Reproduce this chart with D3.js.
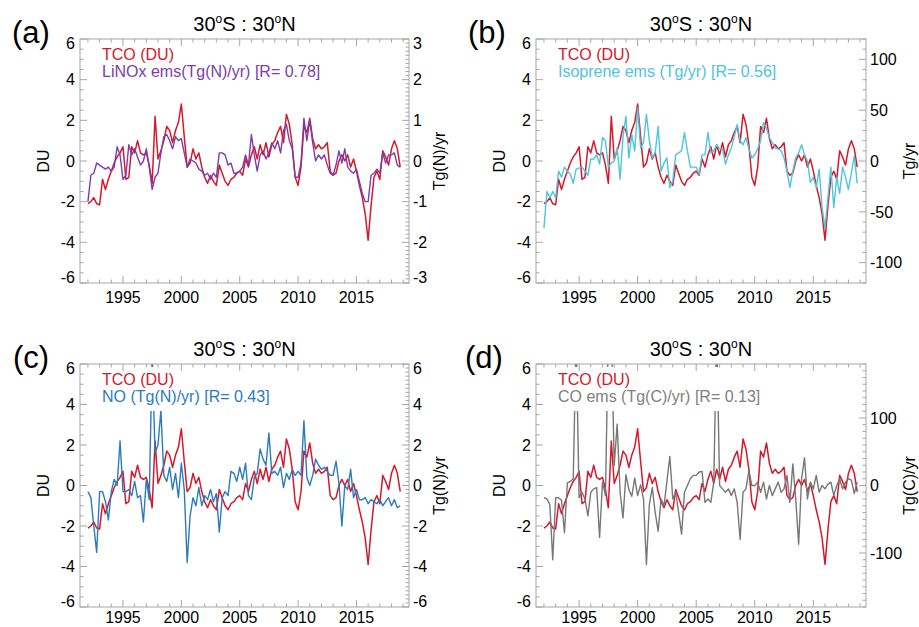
<!DOCTYPE html>
<html><head><meta charset="utf-8">
<script src="https://cdn.jsdelivr.net/npm/d3@7"></script>
<style>
body{margin:0;background:#fff;}
text{font-family:"Liberation Sans",Arial,Helvetica,sans-serif;fill:#000;}
</style>
</head><body>
<svg id="chart" width="919" height="627"></svg>
<script>
// quarterly samples starting 1992.0
const startYear = 1992, stepYear = 0.25;

// Tropospheric column ozone anomaly (DU)
const tco = [
 -2.1,-2.0,-1.8,-2.1,  -2.15,-0.9,-1.4,-0.9,  -0.5,-0.1,0.2,0.4,  0.7,-0.9,-0.8,0.7,
 0.4,1.0,0.4,0.3,  0.4,-0.2,-1.1,2.2,  0.1,0.5,1.0,1.7,  1.5,0.9,1.5,1.9,
 2.8,1.2,-0.3,-0.1,  0.6,0.1,0.4,-0.3,  -0.8,-1.1,-0.7,-1.0,  -1.2,-0.2,-0.6,-1.0,
 -1.2,-0.9,-0.8,-0.6,  -0.5,-0.7,0.1,-0.3,  0.3,0.7,0.1,0.8,  0.3,0.9,0.2,0.8,
 1.0,1.4,1.7,0.9,  2.3,1.8,0.8,-0.8,  -1.2,-0.3,1.7,1.4,  2.1,1.1,0.6,0.8,
 0.6,0.7,0.9,-0.5,  -0.7,-0.6,0.0,0.3,  0.0,0.3,-0.3,0.1,  -0.5,-1.2,-1.8,-2.6,
 -3.9,-2.2,-0.8,-0.5,  -0.9,0.5,0.2,-0.2,  0.6,1.0,0.6,-0.3
];
// LiNOx emissions anomaly (Tg(N)/yr)
const linox = [
 -1.0,-0.35,-0.3,-0.05,  -0.1,-0.15,-0.2,-0.15,  -0.25,-0.15,0.35,0.15,  -0.45,-0.35,0.4,0.15,
 0.3,0.1,-0.1,0.0,  0.3,-0.15,-0.7,-0.4,  -0.3,0.2,0.6,0.65,  0.5,0.3,0.6,0.5,
 0.55,0.2,-0.15,0.05,  0.0,-0.05,-0.2,-0.25,  -0.35,-0.3,-0.45,-0.3,  -0.4,0.2,0.2,0.15,
 -0.1,-0.05,-0.3,-0.3,  -0.25,-0.15,0.15,-0.1,  0.65,0.15,-0.25,0.15,  0.25,0.05,0.2,0.45,
 0.3,0.5,0.2,0.75,  0.9,0.5,0.3,-0.4,  -0.4,-0.05,1.05,0.5,  1.0,0.45,0.0,0.15,
 0.05,0.15,-0.1,-0.3,  -0.35,-0.1,0.25,-0.05,  0.3,-0.15,-0.25,-0.3,  -0.2,-0.5,-0.8,-1.0,
 -1.0,-0.35,-0.3,-0.2,  -0.3,0.2,-0.05,0.15,  0.15,0.2,-0.1,-0.15
];
// Isoprene emissions anomaly (Tg/yr)
const isoprene = [
 -66,-30,-36,-30,  -36,-10,-16,-6,  -10,-13,-22,-8,  -7,-6,-10,-14,
 2,2,6,-3,  23,20,-6,-2,  0,13,-18,24,  44,3,26,10,
 52,13,18,46,  20,3,8,34,  -10,-2,3,-26,  -20,6,8,10,
 28,10,-6,-6,  -6,-13,6,6,  28,8,10,16,  12,12,-3,6,
 13,24,36,20,  16,23,12,3,  6,12,20,38,  32,23,18,13,
 12,10,3,-10,  -26,-10,3,8,  16,6,0,-21,  -16,-26,-8,-46,
 -66,-36,-6,-46,  -16,-32,-6,-16,  -28,-12,5,-22
];
// NO emissions anomaly (Tg(N)/yr)
const noEms = [
 -0.3,-0.6,-2.0,-3.3,  -0.3,-0.3,-0.8,-1.7,  -0.3,0.3,0.0,2.2,  -0.3,-0.3,-0.2,-0.5,
 0.2,-0.6,-0.5,-1.8,  0.3,-0.7,6.5,1.6,  2.0,3.7,0.5,0.2,  0.9,-0.2,0.6,-0.6,
 1.1,-0.2,-3.8,-1.5,  -0.6,-1.0,-0.1,-1.0,  -0.5,-0.7,-0.2,-0.8,  -0.4,-2.3,-0.6,-0.3,
 -0.5,0.7,0.6,0.2,  0.9,0.3,1.1,-0.5,  -0.7,0.4,0.6,1.8,  1.3,1.0,2.6,0.6,
 0.7,0.5,0.9,-0.1,  0.6,0.3,0.8,0.5,  0.7,0.5,3.2,0.4,  0.0,0.5,1.3,1.0,
 0.8,0.9,0.7,0.5,  0.5,1.2,0.1,-2.0,  0.0,-0.2,0.8,-0.6,  -0.2,-0.7,-0.7,-0.6,
 -0.9,-0.7,-0.8,-0.9,  -0.7,-1.0,-0.8,-0.6,  -1.0,-0.7,-1.1,-1.0
];
// CO emissions anomaly (Tg(C)/yr)
const coEms = [
 -18,-20,-28,-110,  -18,-18,-22,-70,  4,6,10,220,  -18,-10,-20,-45,
 -10,-5,-3,-77,  5,-15,230,230,  30,91,-10,-48,  16,-6,-16,11,
 -15,1,-20,-117,  -28,-3,-40,-68,  -20,-30,6,43,  -20,-10,-40,-72,
 -10,0,10,15,  15,20,21,-25,  -20,-25,5,230,  0,-5,-10,-5,
 -15,-5,-25,-80,  -10,-5,22,0,  0,5,-10,5,  -20,0,-15,-5,
 5,-10,-5,15,  -25,32,-20,-87,  10,41,-20,5,  -5,15,-10,0,
 -5,2,5,-15,  0,10,-5,5,  10,8,-12,5
];

const time = tco.map((_, i) => startYear + i * stepYear);
const xDomain = [1991.32, 2019.5];
const xMajor = [1995, 2000, 2005, 2010, 2015];
const duTicks = [-6, -4, -2, 0, 2, 4, 6];

const RED = "#d6182b";
const panels = [
  {letter:"(a)", left:80, top:39, right:409, bottom:283, series:linox, color:"#7d3cab",
   rDomain:[-3,3], rTicks:[-3,-2,-1,0,1,2,3], rMinor:0.1, rLabel:"Tg(N)/yr", rLabelOff:36,
   legend:"LiNOx ems(Tg(N)/yr) [R= 0.78]", letterX:12},
  {letter:"(b)", left:536, top:39, right:866, bottom:283, series:isoprene, color:"#4fc4dc",
   rDomain:[-120,120], rTicks:[-100,-50,0,50,100], rMinor:10, rLabel:"Tg/yr", rLabelOff:51,
   legend:"Isoprene ems (Tg/yr) [R= 0.56]", letterX:468},
  {letter:"(c)", left:80, top:364, right:409, bottom:607, series:noEms, color:"#2b7bbf",
   rDomain:[-6,6], rTicks:[-6,-4,-2,0,2,4,6], rMinor:0.2, rLabel:"Tg(N)/yr", rLabelOff:36,
   legend:"NO (Tg(N)/yr) [R= 0.43]", letterX:13},
  {letter:"(d)", left:536, top:364, right:866, bottom:607, series:coEms, color:"#777777",
   rDomain:[-180,180], rTicks:[-100,0,100], rMinor:10, rLabel:"Tg(C)/yr", rLabelOff:51,
   legend:"CO ems (Tg(C)/yr) [R= 0.13]", letterX:465, legendColor:"#808080"}
];

const svg = d3.select("#chart");
const AX = "#a6a6a6";

panels.forEach((p, pi) => {
  const g = svg.append("g");
  const x = d3.scaleLinear().domain(xDomain).range([p.left, p.right]);
  const y = d3.scaleLinear().domain([-6, 6]).range([p.bottom, p.top]);
  const yr = d3.scaleLinear().domain(p.rDomain).range([p.bottom, p.top]);

  const clipId = "clip" + pi;
  svg.append("clipPath").attr("id", clipId).append("rect")
    .attr("x", p.left).attr("y", p.top).attr("width", p.right - p.left).attr("height", p.bottom - p.top);

  const lines = g.append("g").attr("clip-path", `url(#${clipId})`);
  lines.append("path").datum(tco)
    .attr("fill", "none").attr("stroke", RED).attr("stroke-width", 1.5).attr("stroke-linejoin", "round")
    .attr("d", d3.line().x((d, i) => x(time[i])).y(d => y(d)));
  lines.append("path").datum(p.series)
    .attr("fill", "none").attr("stroke", p.color).attr("stroke-width", 1.4).attr("stroke-linejoin", "round")
    .attr("d", d3.line().x((d, i) => x(time[i])).y(d => yr(d)));

  // legend (with white backing)
  const lg = g.append("g");
  const t1 = lg.append("text").attr("x", p.left + 22).attr("y", p.top + 21)
    .style("font-size", "16px").style("fill", RED).text("TCO (DU)");
  const t2 = lg.append("text").attr("x", p.left + 22).attr("y", p.top + 38)
    .style("font-size", "16px").style("fill", p.legendColor || p.color).text(p.legend);
  const w = Math.max(t1.node().getComputedTextLength(), t2.node().getComputedTextLength());
  lg.insert("rect", "text").attr("x", p.left + 20).attr("y", p.top + 3)
    .attr("width", w + 4).attr("height", 44).attr("fill", "#fff");

  // frame
  g.append("rect").attr("x", p.left).attr("y", p.top)
    .attr("width", p.right - p.left).attr("height", p.bottom - p.top)
    .attr("fill", "none").attr("stroke", AX).attr("stroke-width", 1);

  const tk = g.append("g").attr("stroke", AX).attr("stroke-width", 1);
  // x ticks bottom & top
  const xMinor = d3.range(1992, 2020, 1);
  xMinor.forEach(v => {
    const len = xMajor.includes(v) ? 7 : 3.5;
    tk.append("line").attr("x1", x(v)).attr("x2", x(v)).attr("y1", p.bottom).attr("y2", p.bottom - len);
    tk.append("line").attr("x1", x(v)).attr("x2", x(v)).attr("y1", p.top).attr("y2", p.top + len);
  });
  // left ticks
  d3.range(-6, 6.001, 0.5).forEach(v => {
    const len = (Math.abs(v % 2) < 1e-6) ? 7 : 3.5;
    tk.append("line").attr("x1", p.left).attr("x2", p.left + len).attr("y1", y(v)).attr("y2", y(v));
  });
  // right ticks
  const r0 = Math.ceil(p.rDomain[0] / p.rMinor), r1 = Math.floor(p.rDomain[1] / p.rMinor);
  d3.range(r0, r1 + 1).forEach(k => {
    const v = k * p.rMinor;
    const isMajor = p.rTicks.some(t => Math.abs(t - v) < 1e-6);
    const len = isMajor ? 7 : 3.5;
    tk.append("line").attr("x1", p.right).attr("x2", p.right - len).attr("y1", yr(v)).attr("y2", yr(v));
  });

  // tick labels
  const shift = (v, dom) => v === dom[1] ? 4.5 : (v === dom[0] ? -5.5 : 0);
  duTicks.forEach(v => {
    g.append("text").attr("x", p.left - 5).attr("y", y(v) + shift(v, [-6, 6]) + 5.8)
      .attr("text-anchor", "end").style("font-size", "16px").text(v);
  });
  p.rTicks.forEach(v => {
    g.append("text").attr("x", p.right + 4).attr("y", yr(v) + shift(v, p.rDomain) + 5.8)
      .attr("text-anchor", "start").style("font-size", "16px").text(v);
  });
  const xLabY = Math.min(p.bottom + 19.5, 623);
  xMajor.forEach(v => {
    g.append("text").attr("x", x(v)).attr("y", xLabY)
      .attr("text-anchor", "middle").style("font-size", "16px").text(v);
  });

  // axis titles
  const cy = (p.top + p.bottom) / 2;
  g.append("text").attr("transform", `translate(${p.left - 31.5},${cy}) rotate(-90)`)
    .attr("text-anchor", "middle").style("font-size", "16px").text("DU");
  g.append("text").attr("transform", `translate(${Math.min(p.right + p.rLabelOff, 915)},${cy}) rotate(-90)`)
    .attr("text-anchor", "middle").style("font-size", "16px").text(p.rLabel);

  // title
  const tt = g.append("text").attr("x", (p.left + p.right) / 2).attr("y", p.top - 8.5)
    .attr("text-anchor", "middle").style("font-size", "20px");
  tt.append("tspan").text("30");
  tt.append("tspan").attr("dy", -8).style("font-size", "12px").text("o");
  tt.append("tspan").attr("dy", 8).text("S : 30");
  tt.append("tspan").attr("dy", -8).style("font-size", "12px").text("o");
  tt.append("tspan").attr("dy", 8).text("N");

  // panel letter
  g.append("text").attr("x", p.letterX).attr("y", p.top + 4)
    .style("font-size", "31px").text(p.letter);
});
</script>
</body></html>
